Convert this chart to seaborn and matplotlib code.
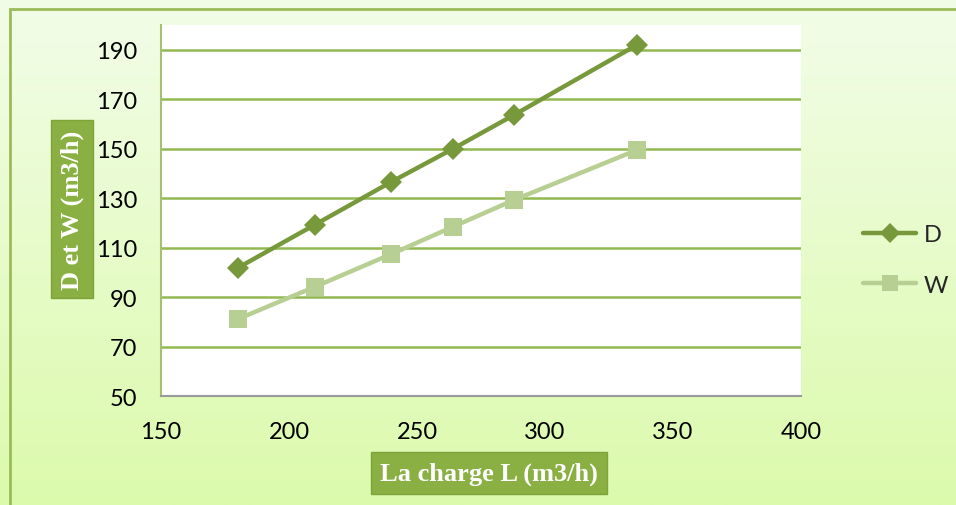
import numpy as np
import pandas as pd
import seaborn as sns
import matplotlib.pyplot as plt
from matplotlib.patches import Rectangle
from matplotlib.lines import Line2D

# Données
charge_L = [180, 210, 240, 264, 288, 336]
debit_D = [101.8, 119.2, 136.6, 149.9, 163.7, 192.0]
debit_W = [81.1, 94.1, 107.4, 118.4, 129.3, 149.5]

couleur_D = '#77993C'
couleur_W = '#B7CF92'
couleur_grille = '#92B850'

sns.set_theme(style='white')
plt.rcParams['font.family'] = ['Lato', 'DejaVu Sans']

fig = plt.figure(figsize=(9.56, 5.06), dpi=100)

# Fond dégradé vert clair
fond = fig.add_axes([0, 0, 1, 1], zorder=-10)
degrade = np.linspace(0, 1, 256).reshape(-1, 1)
haut = np.array([242, 253, 232]) / 255
bas = np.array([220, 250, 172]) / 255
img = haut + (bas - haut) * degrade[..., None]
img = np.repeat(img, 2, axis=1)
fond.imshow(img, aspect='auto', extent=[0, 1, 0, 1], origin='upper')
fond.add_patch(Rectangle((10 / 956, -0.01), 1.0, 1 - 10 / 506 + 0.01,
                         fill=False, edgecolor='#9BBB59', linewidth=2))
fond.set_xlim(0, 1)
fond.set_ylim(0, 1)
fond.axis('off')

ax = fig.add_axes([161 / 956, 1 - 397 / 506, 640 / 956, 371 / 506])
ax.set_facecolor('white')

df = pd.DataFrame({'L': charge_L, 'D': debit_D, 'W': debit_W})
sns.lineplot(data=df, x='L', y='D', ax=ax, color=couleur_D, linewidth=3.2,
             marker='D', markersize=11, markeredgewidth=0, zorder=4)
sns.lineplot(data=df, x='L', y='W', ax=ax, color=couleur_W, linewidth=3.2,
             marker='s', markersize=13, markeredgewidth=0, zorder=3)

ax.set_xlim(150, 400)
ax.set_ylim(50, 200)
ax.set_xticks(np.arange(150, 401, 50))
ax.set_yticks(np.arange(50, 191, 20))
for y in np.arange(70, 191, 20):
    ax.axhline(y, color=couleur_grille, linewidth=1.8, zorder=1)

for cote in ['top', 'right']:
    ax.spines[cote].set_visible(False)
ax.spines['left'].set_color('#A6BF72')
ax.spines['left'].set_linewidth(1.5)
ax.spines['bottom'].set_color('#9A9A9A')
ax.spines['bottom'].set_linewidth(1.5)
ax.tick_params(axis='both', length=0, labelsize=17, colors='black')
ax.tick_params(axis='y', pad=17)
ax.tick_params(axis='x', pad=18)
ax.set_xlabel('')
ax.set_ylabel('')

# Titres des axes dans des encadrés verts
style_titre = dict(color='white', fontsize=19, fontweight='bold',
                   family=['Liberation Serif', 'DejaVu Serif'],
                   bbox=dict(boxstyle='square,pad=0.35', facecolor='#8AB043',
                             edgecolor='#7FA23A'))
fig.text(72 / 956, 1 - 210 / 506, 'D et W (m3/h)', rotation=90,
         ha='center', va='center', **style_titre)
fig.text(489 / 956, 1 - 474 / 506, 'La charge L (m3/h)',
         ha='center', va='center', **style_titre)

# Légende
poignees = [Line2D([], [], color=couleur_D, linewidth=3.2, marker='D', markersize=10, markeredgewidth=0),
            Line2D([], [], color=couleur_W, linewidth=3.2, marker='s', markersize=12, markeredgewidth=0)]
fig.legend(poignees, ['D', 'W'], loc='center left', bbox_to_anchor=(842 / 956, 1 - 261 / 506),
           frameon=False, fontsize=17, handlelength=2.25, handletextpad=0.3, labelspacing=1.25)

plt.savefig('out.png', dpi=100)
